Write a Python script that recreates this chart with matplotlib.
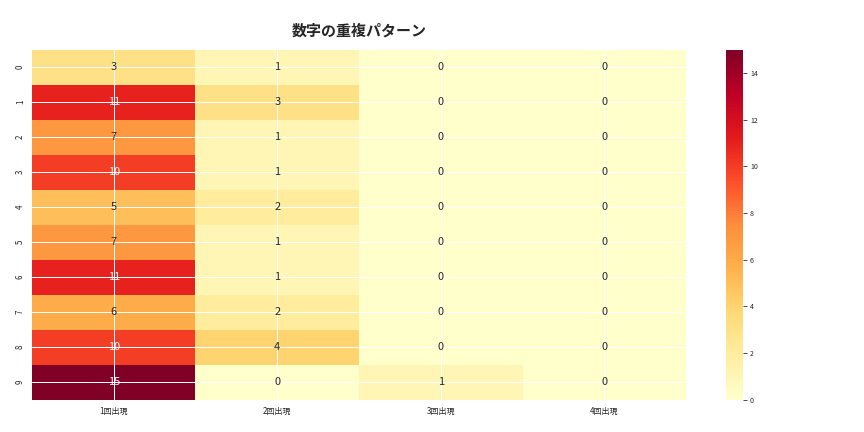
import matplotlib
matplotlib.use("Agg")
import matplotlib.pyplot as plt
import seaborn as sns
import numpy as np

rows = ["0","1","2","3","4","5","6","7","8","9"]
cols = ["1回出現","2回出現","3回出現","4回出現"]
once = [3,11,7,10,5,7,11,6,10,15]
twice = [1,3,1,1,2,1,1,2,4,0]
thrice = [0,0,0,0,0,0,0,0,0,1]
four = [0,0,0,0,0,0,0,0,0,0]

sns.set_style("whitegrid")
plt.rcParams["font.family"] = "Noto Sans CJK JP"
data = np.array([once, twice, thrice, four]).T
fig = plt.figure(figsize=(12, 6), dpi=72)
ax = fig.add_axes([0.037, 0.075, 0.757, 0.81])
cax = fig.add_axes([0.84, 0.075, 0.02, 0.81])
sns.heatmap(data, annot=True, fmt="d", cmap="YlOrRd", ax=ax, cbar_ax=cax,
            xticklabels=cols, yticklabels=rows, annot_kws={"size": 11})
ax.grid(True, color="white", linewidth=1)
ax.set_axisbelow(False)
ax.tick_params(labelsize=8)
cax.tick_params(labelsize=7)
ax.set_title("数字の重複パターン", fontsize=15, fontweight="bold", pad=14)
fig.savefig("out.png", dpi=72)
